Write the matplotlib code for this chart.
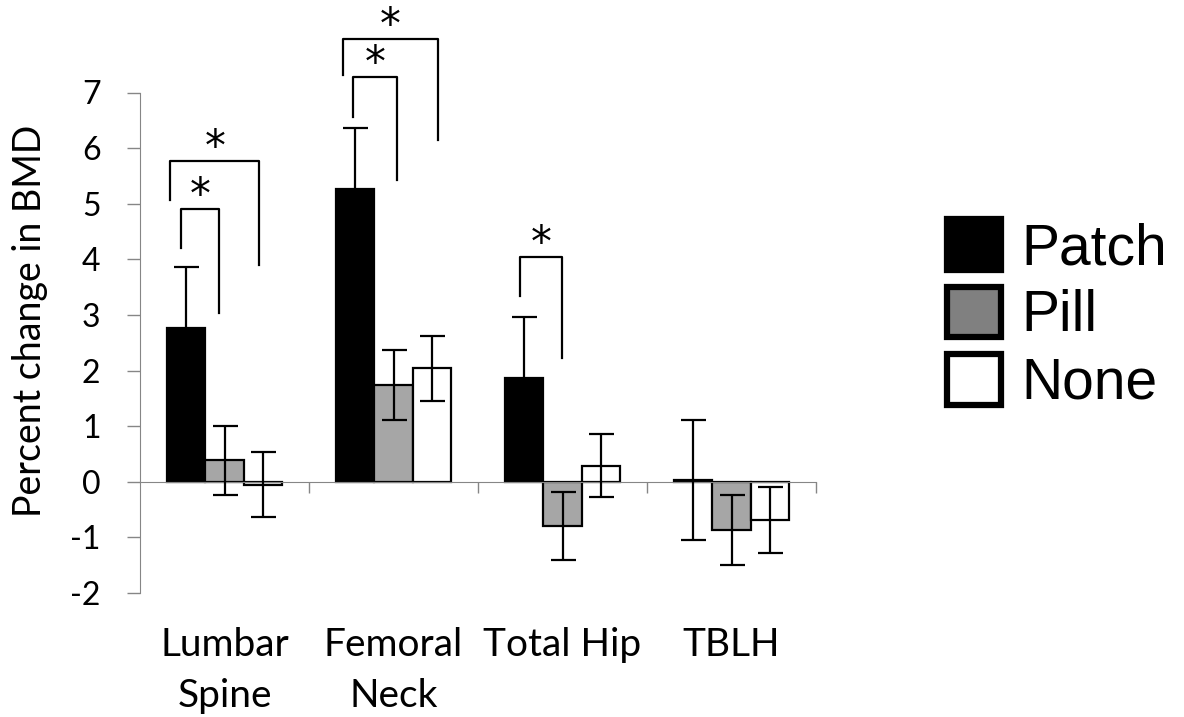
import matplotlib
matplotlib.use("Agg")
from matplotlib import pyplot as plt
from matplotlib.patches import Patch
import numpy as np

# data
sites = ['Lumbar\nSpine', 'Femoral\nNeck', 'Total Hip', 'TBLH']
groups = ['Patch', 'Pill', 'None']
patch_mean = [2.76, 5.26, 1.86, 0.03]
patch_err = [1.10, 1.10, 1.10, 1.08]
pill_mean = [0.39, 1.74, -0.80, -0.87]
pill_err = [0.62, 0.63, 0.61, 0.63]
none_mean = [-0.05, 2.04, 0.29, -0.69]
none_err = [0.59, 0.59, 0.57, 0.59]

# significance brackets: (site, bar_a, bar_b, top, left_end, right_end, dx_left, dx_right)
brackets = [
    (0, 0, 1, 4.90, 4.21, 3.03, -0.031, -0.031),
    (0, 0, 2, 5.76, 5.07, 3.90, -0.094, -0.022),
    (1, 0, 1, 7.28, 6.56, 5.43, -0.013, 0.019),
    (1, 0, 2, 7.96, 7.31, 6.14, -0.073, 0.037),
    (2, 0, 1, 4.04, 3.34, 2.22, -0.023, -0.005),
]

plt.rcParams['font.family'] = ['Lato', 'DejaVu Sans']
plt.rcParams['axes.unicode_minus'] = False

fig = plt.figure(figsize=(11.84, 7.17), dpi=100)
ax = fig.add_axes([140 / 1184, (717 - 593) / 717, 676 / 1184, 500.5 / 717])

x = np.arange(len(sites))
w = 0.228
means = [patch_mean, pill_mean, none_mean]
errs = [patch_err, pill_err, none_err]
faces = ['black', '#a6a6a6', 'white']
for j in range(3):
    xs = x + (j - 1) * w
    ax.bar(xs, means[j], w, color=faces[j], edgecolor='black', linewidth=1.6, zorder=2)
    ax.errorbar(xs, means[j], yerr=errs[j], fmt='none', ecolor='black',
                elinewidth=1.6, capsize=9, capthick=1.6, zorder=3)

for site, a, b, top, yl, yr, dxl, dxr in brackets:
    xl = site + (a - 1) * w + dxl
    xr = site + (b - 1) * w + dxr
    ax.plot([xl, xl, xr, xr], [yl, top, top, yr], color='black', lw=1.6,
            clip_on=False, zorder=4)
    ax.text((xl + xr) / 2, top + 0.02, '*', ha='center', va='baseline',
            fontsize=30, family='DejaVu Sans', clip_on=False)

ax.set_xlim(-0.5, 3.5)
ax.set_ylim(-2, 7)
ax.set_yticks(range(-2, 8))
ax.tick_params(axis='y', length=9.5, width=1, color='#868686', pad=19, labelsize=23)
ax.set_xticks(np.arange(0.5, 4.0, 1.0))
ax.tick_params(axis='x', length=8, width=1, color='#868686', labelbottom=False, direction='out')

for s in ['top', 'right']:
    ax.spines[s].set_visible(False)
ax.spines['left'].set_color('#868686')
ax.spines['bottom'].set_color('#868686')
ax.spines['bottom'].set_position(('data', 0))

for i, lab in enumerate(sites):
    ax.text(i, -0.068, lab, ha='center', va='top', fontsize=28, linespacing=1.5,
            transform=ax.get_xaxis_transform())

ax.text(-0.162, 0.543, 'Percent change in BMD', rotation=90, ha='center', va='center',
        fontsize=27, transform=ax.transAxes)

handles = [Patch(facecolor='black', edgecolor='black', linewidth=4.5),
           Patch(facecolor='#808080', edgecolor='black', linewidth=4.5),
           Patch(facecolor='white', edgecolor='black', linewidth=4.5)]
fig.legend(handles, groups, loc='center left', bbox_to_anchor=(947 / 1184, 1 - 315 / 717),
           frameon=False, handlelength=0.95, handleheight=1.0, handletextpad=0.35,
           labelspacing=0.18, borderpad=0, borderaxespad=0,
           prop={'family': 'Liberation Sans', 'size': 41})

fig.savefig('out.png', dpi=100)
